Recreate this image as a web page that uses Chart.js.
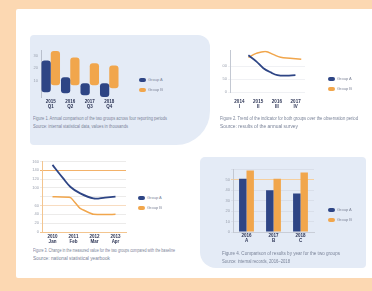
<!DOCTYPE html>
<html><head><meta charset="utf-8">
<script src="https://cdn.jsdelivr.net/npm/chart.js@4"></script>
<style>
html,body{margin:0;padding:0;width:372px;height:291px;overflow:hidden;background:#fcd8b2;font-family:"Liberation Sans",Arial,sans-serif}
#card{position:absolute;left:16px;top:9px;width:360px;height:269px;background:#fff;border-radius:2px}
.panel{position:absolute;background:#e4ebf6}
canvas{position:absolute}
.cap{position:absolute;font-size:4.5px;line-height:5px;height:5px;color:#7a8398;white-space:nowrap}
.cap span{display:inline-block;transform-origin:0 0}
.leg{position:absolute;font-size:4px;line-height:4px;color:#80879a;white-space:nowrap}
.leg i{display:inline-block;width:7px;height:4px;border-radius:2px;vertical-align:top;margin-right:2px}
</style></head>
<body>
<div id="card"></div>
<div class="panel" style="left:30px;top:35px;width:180px;height:110px;border-radius:4px 12px 34px 4px"></div>
<div class="panel" style="left:200px;top:157px;width:166px;height:111px;border-radius:5px 4px 4px 16px"></div>

<canvas id="c1" width="89" height="62" style="left:31px;top:47px"></canvas>
<canvas id="c2" width="84" height="63" style="left:222px;top:47px"></canvas>
<canvas id="c3" width="95" height="86" style="left:32px;top:158px"></canvas>
<canvas id="c4" width="91" height="76" style="left:224px;top:166px"></canvas>

<div id="legends"></div>
<div id="caps"></div>

<script>
// ---- data ----
const seriesNames = ['Group A', 'Group B'];
const seriesColors = ['#2e4585', '#f1a64c'];

// Chart 1: floating (range) bars
const cats1 = [['2015','Q1'], ['2016','Q2'], ['2017','Q3'], ['2018','Q4']];
const blue1 = [[0.08, 2.6], [0.0, 1.26], [-0.16, 0.79], [-0.3, 0.79]];
const orange1 = [[0.63, 3.35], [0.63, 2.84], [0.63, 2.37], [0.39, 2.2]];
const yTicks1 = ['0', '10', '20', '30'];

// Chart 2: lines
const cats2 = [['2014','I'], ['2015','II'], ['2016','III'], ['2017','IV']];
const blue2 = [[0.48, 2.85], [0.9, 2.38], [1.28, 1.85], [1.7, 1.5], [2.03, 1.31], [2.5, 1.27], [2.99, 1.31]];
const orange2 = [[0.48, 2.69], [0.9, 3.0], [1.4, 3.15], [1.8, 2.92], [2.2, 2.69], [2.7, 2.62], [3.3, 2.54]];
const yTicks2 = ['0', '50', '100', '150'];

// Chart 3: lines
const cats3 = [['2010','Jan'], ['2011','Feb'], ['2012','Mar'], ['2013','Apr']];
const blue3 = [[0, 7.6], [0.5, 6.1], [0.86, 5.1], [1.3, 4.4], [1.95, 3.8], [2.5, 3.9], [3, 4.0]];
const orange3 = [[0, 4.0], [0.86, 3.9], [1.3, 2.7], [1.95, 2.0], [3, 2.0]];
const yTicks3 = ['0', '20', '40', '60', '', '100', '120', '140', '160'];

// Chart 4: grouped bars
const cats4 = [['2016','A'], ['2017','B'], ['2018','C']];
const blue4 = [5.1, 4.0, 3.7];
const orange4 = [5.9, 5.1, 5.7];
const yTicks4 = ['0', '10', '20', '30', '40', '50', ''];

const captions = [
  ['Figure 1. Annual comparison of the two groups across four reporting periods', 'Source: internal statistical data, values in thousands'],
  ['Figure 2. Trend of the indicator for both groups over the observation period', 'Source: results of the annual survey'],
  ['Figure 3. Change in the measured value for the two groups compared with the baseline', 'Source: national statistical yearbook'],
  ['Figure 4. Comparison of results by year for the two groups', 'Source: internal records, 2016–2018']
];

// ---- helpers ----
const tickFont = {size: 4, family: 'Liberation Sans'};
const xFont = {size: 4.5, family: 'Liberation Sans', weight: 'bold', lineHeight: 1.1};
const xColor = '#2b3354';
function fit(w) { return s => { s.width = w; }; }
function fitH(h) { return s => { s.height = h; }; }
function intTicks(lo, hi) { return s => { s.ticks = s.ticks.filter(t => Number.isInteger(t.value) && t.value >= lo && t.value <= hi); }; }
function catTicks(cats) { return s => { s.ticks = cats.map((c, i) => ({value: i})); }; }
const base = {responsive: false, animation: false, devicePixelRatio: 1,
  plugins: {legend: {display: false}, tooltip: {enabled: false}}};
const pts = a => a.map(p => ({x: p[0], y: p[1]}));
const noGrid = {display: false, drawTicks: false};

// Chart 1
new Chart(document.getElementById('c1'), {
  type: 'bar',
  data: {labels: cats1, datasets: [
    {data: blue1, backgroundColor: seriesColors[0], borderRadius: 3, borderSkipped: false},
    {data: orange1, backgroundColor: seriesColors[1], borderRadius: 3, borderSkipped: false}
  ]},
  options: Object.assign({}, base, {
    layout: {padding: {top: 3, right: 1, left: 0, bottom: 0}},
    categoryPercentage: 0.95, barPercentage: 1,
    scales: {
      x: {afterFit: fitH(12), grid: noGrid, border: {display: false},
          ticks: {font: xFont, color: xColor, padding: 2, maxRotation: 0}},
      y: {min: -0.3, max: 3.4, afterFit: fit(10), afterBuildTicks: intTicks(0, 3),
          grid: {color: 'rgba(0,0,0,0)', tickLength: 2}, border: {color: '#b9bfcc', width: 1},
          ticks: {stepSize: 1, font: tickFont, color: '#9aa0ae', padding: 1, callback: (v) => yTicks1[v]}}
    }
  })
});

// Chart 2
new Chart(document.getElementById('c2'), {
  type: 'line',
  data: {datasets: [
    {data: pts(blue2), borderColor: seriesColors[0], borderWidth: 1.8, tension: 0.4, pointRadius: 0},
    {data: pts(orange2), borderColor: seriesColors[1], borderWidth: 1.5, tension: 0.4, pointRadius: 0}
  ]},
  options: Object.assign({}, base, {
    layout: {padding: {top: 3, right: 1, left: 0, bottom: 0}},
    scales: {
      x: {type: 'linear', min: -0.5, max: 3.5, afterFit: fitH(18), afterBuildTicks: catTicks(cats2),
          grid: {color: 'rgba(0,0,0,0)', tickLength: 2}, border: {display: false},
          ticks: {autoSkip: false, font: xFont, color: xColor, padding: 5, maxRotation: 0, callback: (v) => cats2[v]}},
      y: {min: 0, max: 3.23, afterFit: fit(8), afterBuildTicks: intTicks(0, 3),
          grid: {color: '#f0f1f4', tickLength: 2}, border: {color: '#c3c8d2', width: 1},
          ticks: {stepSize: 1, font: tickFont, color: '#9aa0ae', padding: 1, callback: (v) => yTicks2[v]}}
    }
  })
});

// Chart 3
const grid3 = {7: '#f3b26a', 3: '#f8dcc0', 0: '#f3c58f'};
new Chart(document.getElementById('c3'), {
  type: 'line',
  data: {datasets: [
    {data: pts(blue3), borderColor: seriesColors[0], borderWidth: 1.8, tension: 0.35, pointRadius: 0},
    {data: pts(orange3), borderColor: seriesColors[1], borderWidth: 1.5, tension: 0.1, pointRadius: 0}
  ]},
  options: Object.assign({}, base, {
    layout: {padding: {top: 3, right: 1, left: 0, bottom: 0}},
    scales: {
      x: {type: 'linear', min: -0.5, max: 3.5, afterFit: fitH(12), afterBuildTicks: catTicks(cats3),
          grid: noGrid, border: {color: '#f3c58f', width: 1},
          ticks: {autoSkip: false, font: xFont, color: xColor, padding: 2, maxRotation: 0, callback: (v) => cats3[v]}},
      y: {min: 0, max: 8, afterFit: fit(10), afterBuildTicks: intTicks(0, 8),
          grid: {color: c => grid3[c.tick && c.tick.value] || '#ecebea', tickLength: 2},
          border: {color: '#f3c58f', width: 1},
          ticks: {stepSize: 1, autoSkip: false, font: tickFont, color: '#9aa0ae', padding: 1, callback: (v) => yTicks3[v]}}
    }
  })
});

// Chart 4
const grid4 = {5: '#f5cf9e'};
new Chart(document.getElementById('c4'), {
  type: 'bar',
  data: {labels: cats4, datasets: [
    {data: blue4, backgroundColor: seriesColors[0]},
    {data: orange4, backgroundColor: seriesColors[1]}
  ]},
  options: Object.assign({}, base, {
    layout: {padding: {top: 3, right: 1, left: 0, bottom: 0}},
    categoryPercentage: 0.55, barPercentage: 1,
    scales: {
      x: {afterFit: fitH(10), grid: noGrid, border: {color: '#c9ced8', width: 1},
          ticks: {font: xFont, color: xColor, padding: 1, maxRotation: 0}},
      y: {min: 0, max: 6, afterFit: fit(9), afterBuildTicks: intTicks(0, 6),
          grid: {color: c => grid4[c.tick && c.tick.value] || '#d9dfea', tickLength: 2},
          border: {color: '#c3c8d2', width: 1},
          ticks: {stepSize: 1, autoSkip: false, font: tickFont, color: '#9aa0ae', padding: 1, callback: (v) => yTicks4[v]}}
    }
  })
});

// ---- legends & captions ----
const legendPos = [[139, 78], [328, 77], [138, 196], [328, 208]];
let lh = '';
legendPos.forEach(p => {
  seriesNames.forEach((n, i) => {
    lh += '<div class="leg" style="left:' + p[0] + 'px;top:' + (p[1] + i * 10) + 'px"><i style="background:' + seriesColors[i] + '"></i>' + n + '</div>';
  });
});
document.getElementById('legends').innerHTML = lh;

const capPos = [[33, 116, 134, 95], [220, 116, 138, 78], [33, 248, 142, 77], [222, 251, 118, 68]];
let ch = '';
captions.forEach((c, k) => {
  const p = capPos[k];
  ch += '<div class="cap" style="left:' + p[0] + 'px;top:' + p[1] + 'px" data-w="' + p[2] + '"><span>' + c[0] + '</span></div>';
  ch += '<div class="cap" style="left:' + p[0] + 'px;top:' + (p[1] + 8) + 'px" data-w="' + p[3] + '"><span>' + c[1] + '</span></div>';
});
document.getElementById('caps').innerHTML = ch;
document.querySelectorAll('.cap').forEach(d => {
  const s = d.firstChild;
  const w = s.getBoundingClientRect().width;
  s.style.transform = 'scaleX(' + (parseFloat(d.dataset.w) / w) + ')';
});
</script>
</body></html>
